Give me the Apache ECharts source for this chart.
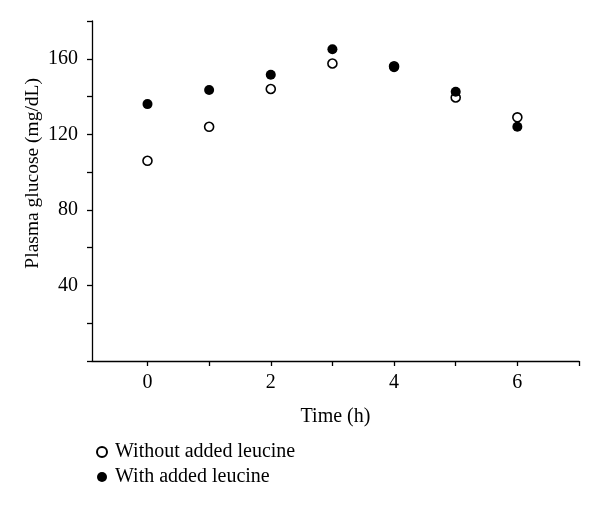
<!DOCTYPE html>
<html><head><meta charset="utf-8">
<script src="https://cdn.jsdelivr.net/npm/echarts@6/dist/echarts.min.js"></script>
<style>html,body{margin:0;padding:0;background:#fff}#c{width:600px;height:506px}</style>
</head><body><div id="c"></div>
<script>
const times = [0, 1, 2, 3, 4, 5, 6];
const withoutLeucine = [106, 124, 144, 157.5, 156, 139.5, 129];
const withLeucine = [136, 143.5, 151.5, 165, 155.5, 142.5, 124];
const xTicks = [0, 1, 2, 3, 4, 5, 6, 7];
const xLabels = [0, 2, 4, 6];
const yTicks = [0, 20, 40, 60, 80, 100, 120, 140, 160, 180];
const yLabels = [40, 80, 120, 160];
const seriesNames = ['Without added leucine', 'With added leucine'];

const font = 'Liberation Serif';
const fs = 20;
const chart = echarts.init(document.getElementById('c'), null, {renderer: 'canvas'});
const toPairs = arr => times.map((t, i) => [t, arr[i]]);
chart.setOption({
  animation: false,
  grid: {left: 92, right: 21, top: 21, bottom: 145, containLabel: false},
  xAxis: {
    type: 'value', min: -0.9, max: 7,
    name: 'Time (h)', nameLocation: 'middle', nameGap: 46,
    nameTextStyle: {fontFamily: font, fontSize: fs, color: '#000'},
    axisLine: {onZero: false, lineStyle: {color: '#000', width: 1.3}},
    axisTick: {show: true, length: 5, customValues: xTicks, lineStyle: {color: '#000', width: 1.3}},
    axisLabel: {customValues: xLabels, margin: 12, fontFamily: font, fontSize: fs, color: '#000'},
    splitLine: {show: false}
  },
  yAxis: {
    type: 'value', min: 0, max: 180,
    axisLine: {show: true, onZero: false, lineStyle: {color: '#000', width: 1.3}},
    axisTick: {show: true, length: 5, customValues: yTicks, lineStyle: {color: '#000', width: 1.3}},
    axisLabel: {customValues: yLabels, margin: 14, fontFamily: font, fontSize: fs, color: '#000'},
    splitLine: {show: false}
  },
  legend: {
    orient: 'vertical', left: 91, top: 437, itemGap: 5,
    itemWidth: 10, itemHeight: 10,
    textStyle: {fontFamily: font, fontSize: fs, color: '#000', padding: [0, 0, 0, 3]},
    data: seriesNames.map(n => ({name: n, icon: 'circle'}))
  },
  graphic: [{
    type: 'text', left: 23, top: 78, rotation: Math.PI / 2,
    style: {text: 'Plasma glucose (mg/dL)', font: '19.5px "Liberation Serif"', fill: '#000'}
  }],
  series: [
    {name: seriesNames[0], type: 'scatter', data: toPairs(withoutLeucine), symbol: 'circle', symbolSize: 9,
     itemStyle: {color: '#fff', borderColor: '#000', borderWidth: 1.6, opacity: 1}, z: 2},
    {name: seriesNames[1], type: 'scatter', data: toPairs(withLeucine), symbol: 'circle', symbolSize: 10,
     itemStyle: {color: '#000', borderColor: '#000', borderWidth: 0, opacity: 1}, z: 3}
  ]
});
</script></body></html>
